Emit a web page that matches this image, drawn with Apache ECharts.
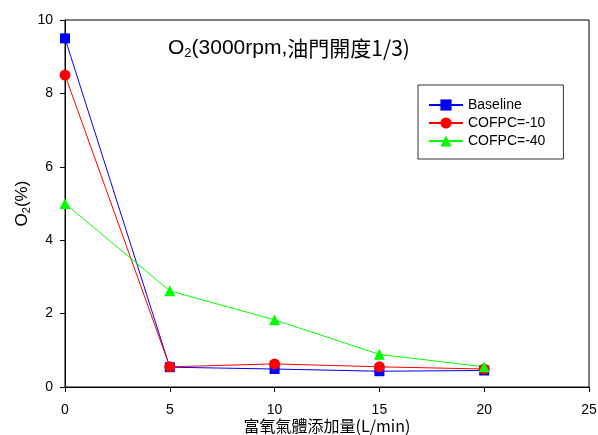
<!DOCTYPE html>
<html>
<head>
<meta charset="utf-8">
<script src="https://cdn.jsdelivr.net/npm/echarts@6/dist/echarts.min.js"></script>
<style>html,body{margin:0;padding:0;background:#fff;}#c{width:598px;height:435px;}</style>
</head>
<body>
<div id="c"></div>
<script>
const xValues = [0, 5, 10, 15, 20];
const baseline = [9.5, 0.54, 0.49, 0.43, 0.45];
const cofpc10 = [8.5, 0.55, 0.63, 0.55, 0.49];
const cofpc40 = [5.0, 2.62, 1.83, 0.89, 0.55];
const seriesNames = ['Baseline', 'COFPC=-10', 'COFPC=-40'];
const xTicks = [0, 5, 10, 15, 20, 25];
const yTicks = [0, 2, 4, 6, 8, 10];

function pairs(v) { return xValues.map((x, i) => [x, v[i]]); }

const chart = echarts.init(document.getElementById('c'), null, {renderer: 'canvas'});
const font = 'Liberation Sans, Arial, sans-serif';
const cjk = '"Noto Sans CJK TC", sans-serif';
chart.setOption({
  animation: false,
  backgroundColor: '#fff',
  title: {
    text: '{a|O}{s|2}{a|(3000rpm,}{c|油門開度1/3)}',
    left: 163, top: 31,
    textStyle: {
      fontWeight: 'normal',
      rich: {
        a: {fontFamily: font, fontSize: 21, fontWeight: 'normal', color: '#000'},
        s: {fontFamily: font, fontSize: 13, fontWeight: 'normal', color: '#000', padding: [11, 0, 0, 0]},
        c: {fontFamily: cjk, fontSize: 21, fontWeight: 'normal', color: '#000'}
      }
    }
  },
  legend: {
    orient: 'vertical',
    left: 418, top: 85,
    padding: [13, 18, 11, 10],
    itemGap: 4,
    itemWidth: 34, itemHeight: 14,
    borderColor: '#333', borderWidth: 1, borderRadius: 0,
    backgroundColor: '#fff',
    textStyle: {fontFamily: font, fontSize: 14, color: '#000'},
    data: seriesNames
  },
  grid: {left: 65, right: 9, top: 20, bottom: 48, show: true, borderColor: '#000', borderWidth: 1,
         containLabel: false, outerBoundsMode: 'none'},
  xAxis: {
    type: 'value', min: xTicks[0], max: xTicks[xTicks.length - 1], interval: 5,
    name: '富氧氣體添加量(L/min)', nameLocation: 'middle', nameGap: 31, nameMoveOverlap: false,
    nameTextStyle: {fontFamily: cjk, fontSize: 16, color: '#000'},
    axisLine: {show: true, lineStyle: {color: '#000', width: 1}},
    axisTick: {show: true, inside: false, length: 5, lineStyle: {color: '#000'}},
    axisLabel: {fontFamily: font, fontSize: 14, color: '#000', margin: 16},
    splitLine: {show: false}
  },
  yAxis: {
    type: 'value', min: yTicks[0], max: yTicks[yTicks.length - 1], interval: 2,
    name: '{a|O}{s|2}{a|(%)}', nameLocation: 'middle', nameGap: 33, nameMoveOverlap: false,
    nameTextStyle: {
      rich: {
        a: {fontFamily: font, fontSize: 17, color: '#000'},
        s: {fontFamily: font, fontSize: 11, color: '#000', padding: [9, 0, 0, 0]}
      }
    },
    axisLine: {show: true, lineStyle: {color: '#000', width: 1}},
    axisTick: {show: true, inside: false, length: 5, lineStyle: {color: '#000'}},
    axisLabel: {fontFamily: font, fontSize: 14, color: '#000', margin: 12},
    splitLine: {show: false}
  },
  series: [
    {name: seriesNames[0], type: 'line', data: pairs(baseline), symbol: 'rect', symbolSize: 10,
     itemStyle: {color: '#0000ff'}, lineStyle: {color: '#0000ff', width: 1}},
    {name: seriesNames[1], type: 'line', data: pairs(cofpc10), symbol: 'circle', symbolSize: 11,
     itemStyle: {color: '#ff0000'}, lineStyle: {color: '#ff0000', width: 1}},
    {name: seriesNames[2], type: 'line', data: pairs(cofpc40), symbol: 'triangle', symbolSize: 11,
     itemStyle: {color: '#00ff00'}, lineStyle: {color: '#00ff00', width: 1}}
  ]
});
</script>
</body>
</html>
